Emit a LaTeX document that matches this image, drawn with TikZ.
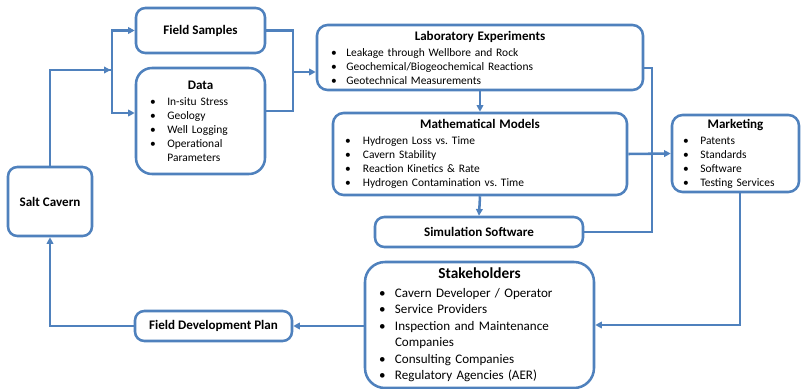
\documentclass[tikz,border=0pt]{standalone}
\usepackage{fontspec}
\setmainfont{Carlito}
\usetikzlibrary{arrows.meta}
\definecolor{cblue}{RGB}{79,129,189}
\newcommand{\boxtitle}[2][9.8]{{\centering\bfseries\fontsize{#1}{12}\selectfont #2\par}\vspace{1.5pt}}
\newcommand{\bitem}[2][12.5pt]{\par\noindent\makebox[#1][l]{\textbullet}#2}
\newcommand{\bmore}[2][12.5pt]{\par\noindent\hspace*{#1}#2}

\tikzset{every picture/.style={line width=1.9pt}}
\tikzset{
  blk/.style={draw=cblue, rounded corners=8pt, fill=white, inner xsep=10.5pt, inner ysep=2pt,
    align=left, font=\fontsize{8.6}{10.5}\selectfont},
  onebox/.style={draw=cblue, rounded corners=7pt, fill=white, inner sep=2pt, align=center,
    font=\bfseries\fontsize{9.8}{12}\selectfont},
  link/.style={draw=cblue},
  arr/.style={draw=cblue, -{Triangle[length=5pt,width=5pt]}}
}

\begin{document}
\begin{tikzpicture}[x=0.75pt,y=0.75pt,yscale=-1,xscale=1]
\useasboundingbox (0,0) rectangle (801,389);

%Shape: Single boxes
\node [onebox, minimum width=0.75pt*84, minimum height=0.75pt*69] (cavern) at (50,201.5) {Salt Cavern};
\node [onebox, minimum width=0.75pt*129, minimum height=0.75pt*45] (samples) at (200.5,30.5) {Field Samples};
\node [onebox, minimum width=0.75pt*208, minimum height=0.75pt*30] (simsoft) at (479,232) {Simulation Software};
\node [onebox, minimum width=0.75pt*157, minimum height=0.75pt*30] (fdplan) at (213.5,326) {Field Development Plan};

%Shape: List boxes
\node [blk, text width=0.75pt*101, minimum height=0.75pt*106, rounded corners=12pt] (data) at (200.5,121) {%
  \boxtitle{Data}
  \bitem[13pt]{In-situ Stress}
  \bitem[13pt]{Geology}
  \bitem[13pt]{Well Logging}
  \bitem[13pt]{Operational}
  \bmore[13pt]{Parameters}};
\node [blk, text width=0.75pt*298, minimum height=0.75pt*65] (labexp) at (480,57.5) {%
  \boxtitle{Laboratory Experiments}
  \bitem[11.5pt]{Leakage through Wellbore and Rock}
  \bitem[11.5pt]{Geochemical/Biogeochemical Reactions}
  \bitem[11.5pt]{Geotechnical Measurements}};
\node [blk, text width=0.75pt*270, minimum height=0.75pt*82, inner xsep=9pt] (mathmod) at (480,154) {%
  \boxtitle{Mathematical Models}
  \bitem[13.5pt]{Hydrogen Loss vs.\ Time}
  \bitem[13.5pt]{Cavern Stability}
  \bitem[13.5pt]{Reaction Kinetics \& Rate}
  \bitem[13.5pt]{Hydrogen Contamination vs.\ Time}};
\node [blk, text width=0.75pt*105, minimum height=0.75pt*77, inner xsep=8.25pt] (market) at (735.5,153.5) {%
  \boxtitle{Marketing}
  \bitem[13pt]{Patents}
  \bitem[13pt]{Standards}
  \bitem[13pt]{Software}
  \bitem[13pt]{Testing Services}};
\node [blk, text width=0.75pt*201, minimum height=0.75pt*126, rounded corners=15pt,
  font=\fontsize{9.8}{12.4}\selectfont] (stake) at (479.5,325) {%
  \boxtitle[11.5]{Stakeholders}
  \bitem[12pt]{Cavern Developer / Operator}
  \bitem[12pt]{Service Providers}
  \bitem[12pt]{Inspection and Maintenance}
  \bmore[12pt]{Companies}
  \bitem[12pt]{Consulting Companies}
  \bitem[12pt]{Regulatory Agencies (AER)}};

%Junctions
\coordinate (jleft) at (112,70);
\coordinate (jright) at (293,72);
\coordinate (jmid) at (652,153);

%Straight Lines
\draw [link] (cavern.north) |- (jleft);
\draw [arr] (cavern.north |- jleft) -- ([xshift=-1pt]jleft);
\draw [arr] (jleft) |- (samples.west);
\draw [arr] (jleft) |- ([yshift=-6pt]data.west);
\draw [link] (samples.east) -| (jright);
\draw [link] ([yshift=-7.5pt]data.east) -| (jright);
\draw [arr] (jright) -- (jright -| labexp.west);
\draw [arr] (labexp.south) -- (mathmod.north);
\draw [arr] (mathmod.south) -- (simsoft.north);
\draw [link] ([yshift=8pt]labexp.east) -| (jmid);
\draw [link] (simsoft.east) -| (jmid);
\draw [arr] (mathmod.east) -- (market.west);
\draw [arr] ([xshift=3.4pt]market.south) |- (stake.east);
\draw [arr] (fdplan.east -| stake.west) -- (fdplan.east);
\draw [arr] (fdplan.west) -| (cavern.south);

\end{tikzpicture}
\end{document}
